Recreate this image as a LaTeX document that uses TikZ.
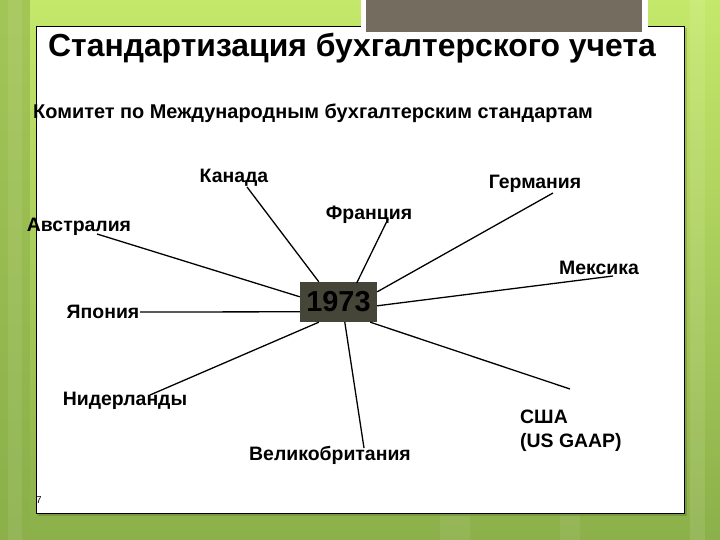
\documentclass[tikz,border=0pt]{standalone}
\usepackage{fontspec}
\setmainfont{Liberation Sans}
\usetikzlibrary{calc}
\definecolor{bgtop}{RGB}{196,232,106}
\definecolor{bgbot}{RGB}{140,176,74}
\definecolor{grayblk}{RGB}{116,108,94}
\definecolor{hubfill}{RGB}{70,70,56}
\tikzset{
  lbl/.style={font=\bfseries\fontsize{19.5}{22}\selectfont, inner sep=0pt, anchor=center},
  conn/.style={draw=black, line width=1.3pt},
}
\begin{document}
\begin{tikzpicture}[x=1bp,y=-1bp]
\useasboundingbox (0,0) rectangle (720,540);
% background
\shade[top color=bgtop, bottom color=bgbot] (0,0) rectangle (720,540);
\fill[bgbot, opacity=0.6] (0,0) rectangle (30,540);
\fill[white, opacity=0.08] (8,0) rectangle (22,540);
\fill[white, opacity=0.10] (690,0) rectangle (705,540);
\fill[white, opacity=0.07] (440,515) rectangle (470,540);
\fill[white, opacity=0.07] (560,515) rectangle (580,540);
% panel
\fill[black, opacity=0.15] (38,28) rectangle (687,516);
\filldraw[fill=white, draw=black, line width=0.8pt] (36,26) rectangle (684,513);
% gray box on top
\fill[white] (361,0) rectangle (648,37);
\fill[grayblk] (366,0) rectangle (642,32);
% title
\node[font=\bfseries\fontsize{32}{36}\selectfont, inner sep=0pt] (title) at (352,48) {Стандартизация бухгалтерского учета};
\node[font=\bfseries\fontsize{20}{23}\selectfont, inner sep=0pt, anchor=west] (sub) at (33,113) {Комитет по Международным бухгалтерским стандартам};
% hub
\node[fill=hubfill, minimum width=77bp, minimum height=40bp, inner sep=0pt,
      font=\bfseries\fontsize{29}{30}\selectfont] (hub) at (338.5,302) {1973};
% labels
\node[lbl] (canada) at (234,178) {Канада};
\node[lbl] (germany) at (535,184) {Германия};
\node[lbl] (france) at (369,215) {Франция};
\node[lbl] (australia) at (79,227) {Австралия};
\node[lbl] (mexico) at (599,268) {Мексика};
\node[lbl] (japan) at (103,312) {Япония};
\node[lbl] (nether) at (125,401) {Нидерланды};
\node[lbl] (uk) at (330,455) {Великобритания};
\node[lbl, align=left, anchor=west, font=\bfseries\fontsize{19.5}{24}\selectfont] (usa) at (520,431) {США\\(US GAAP)};
\node[font=\fontsize{10}{12}\selectfont, inner sep=0pt, anchor=west] (pnum) at (36,500) {7};
% endpoints at labels
\coordinate (cCan) at (247,187);
\coordinate (cAus) at (97,234);
\coordinate (cJap) at (140,312);
\coordinate (cFra) at (388,219);
\coordinate (cGer) at (553,193);
\coordinate (cMex) at (613,276);
\coordinate (cUsa) at (570,389);
\coordinate (cNet) at (150,395);
\coordinate (cUk) at (364,448);
% connectors
\draw[conn] (cCan) -- ($(hub.north west)+(19,0)$);
\draw[conn] (cFra) -- ($(hub.north west)+(57,1)$);
\draw[conn] (cAus) -- ($(hub.north west)+(0,15)$);
\draw[conn] (cJap) -- ($(hub.north west)+(0,30)$);
\draw[conn] (cGer) -- ($(hub.north east)+(0,10)$);
\draw[conn] (cMex) -- ($(hub.north east)+(0,24)$);
\draw[conn] (cUsa) -- ($(hub.south east)+(-7,0)$);
\draw[conn] (cUk) -- ($(hub.south west)+(45,0)$);
\draw[conn] (cNet) -- ($(hub.south west)+(19,0)$);
\end{tikzpicture}
\end{document}
